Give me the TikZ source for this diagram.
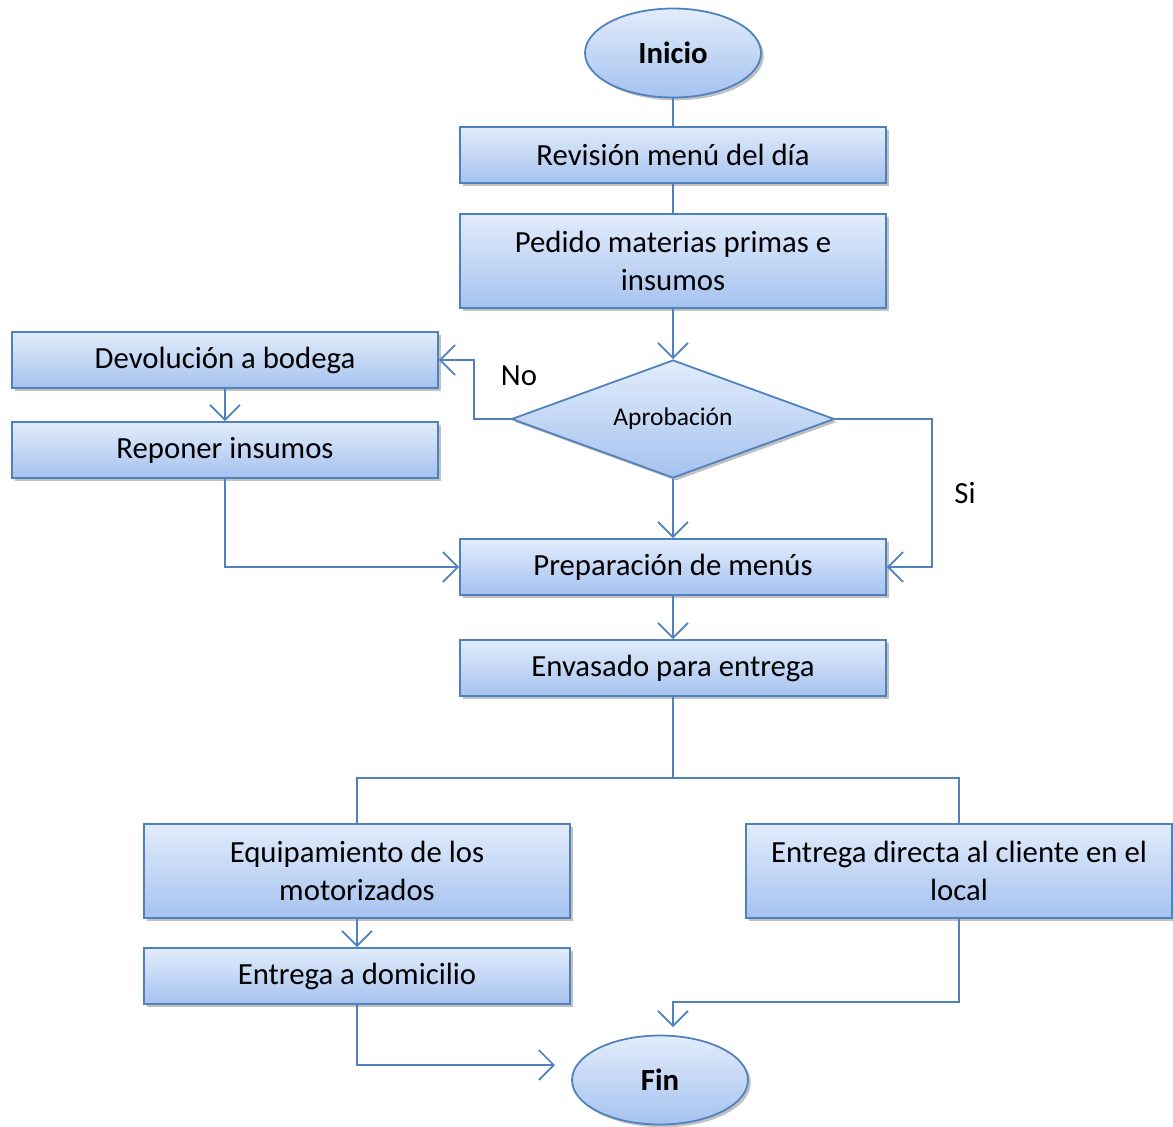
\documentclass[tikz,border=0pt]{standalone}
\usepackage{fontspec}
\setmainfont{Carlito}
\usetikzlibrary{shapes.geometric,arrows.meta,shadows}

\definecolor{borde}{HTML}{4F81BD}
\definecolor{arriba}{HTML}{E2ECFB}
\definecolor{abajo}{HTML}{A5C2EF}

\tikzset{
  sombra/.style={drop shadow={shadow xshift=1.6pt,shadow yshift=-1.6pt,opacity=.35,fill=black!70}},
  paso/.style={rectangle,draw=borde,line width=1pt,top color=arriba,bottom color=abajo,
    minimum width=8.52cm,minimum height=1.12cm,inner sep=0pt,align=center,
    font=\fontsize{17.5}{21.5}\selectfont,sombra},
  pasoalto/.style={paso,minimum height=1.88cm},
  terminal/.style={ellipse,draw=borde,line width=1pt,top color=arriba,bottom color=abajo,
    minimum width=3.52cm,minimum height=1.78cm,inner sep=0pt,
    font=\fontsize{17.5}{21}\selectfont\bfseries,sombra},
  decision/.style={diamond,aspect=2.74,draw=borde,line width=1pt,top color=arriba,bottom color=abajo,
    minimum width=6.46cm,minimum height=2.36cm,inner sep=0pt,
    font=\fontsize{14.5}{17}\selectfont,sombra},
  linea/.style={draw=borde,line width=1pt},
  flecha/.style={linea,-{Straight Barb[length=3mm,width=6mm,line width=1pt]}},
  etiqueta/.style={font=\fontsize{17.5}{21}\selectfont}
}

\begin{document}
\begin{tikzpicture}[x=0.02cm,y=-0.02cm]
\useasboundingbox (0,0) rectangle (1173,1126);

% columna central
\node[terminal] (ini) at (673,53) {Inicio};
\node[paso] (rev) at (673,155) {Revisión menú del día};
\node[pasoalto] (ped) at (673,261) {Pedido materias primas e\\insumos};
\node[decision] (apr) at (673,419) {Aprobación};
\node[paso] (pre) at (673,567) {Preparación de menús};
\node[paso] (env) at (673,668) {Envasado para entrega};

% rama del no
\node[paso] (dev) at (225,360) {Devolución a bodega};
\node[paso] (rep) at (225,450) {Reponer insumos};

% entregas
\node[pasoalto] (equ) at (357,871) {Equipamiento de los\\motorizados};
\node[pasoalto] (dir) at (959,871) {Entrega directa al cliente en el\\local};
\node[paso] (dom) at (357,976) {Entrega a domicilio};
\node[terminal] (fin) at (660,1080) {Fin};

\node[etiqueta] (no) at (519,376) {No};
\node[etiqueta] (si) at (965,493) {Si};

\coordinate (div) at (673,778);
\coordinate (llegaA) at (555,1065);
\coordinate (llegaB) at (673,1027);

\draw[linea] (ini) -- (rev);
\draw[linea] (rev) -- (ped);
\draw[flecha] (ped) -- (apr);
\draw[flecha] (apr.west) -- ++(-37,0) |- (dev.east);
\draw[flecha] (apr.east) -- ++(97,0) |- (pre.east);
\draw[flecha] (apr) -- (pre);
\draw[flecha] (dev) -- (rep);
\draw[flecha] (rep.south) |- (pre.west);
\draw[flecha] (pre) -- (env);
\draw[linea] (env.south) -- (div);
\draw[linea] (div) -| (equ.north);
\draw[linea] (div) -| (dir.north);
\draw[flecha] (equ) -- (dom);
\draw[flecha] (dom.south) |- (llegaA);
\draw[flecha] (dir.south) -- ++(0,83) -| (llegaB);
\end{tikzpicture}
\end{document}
